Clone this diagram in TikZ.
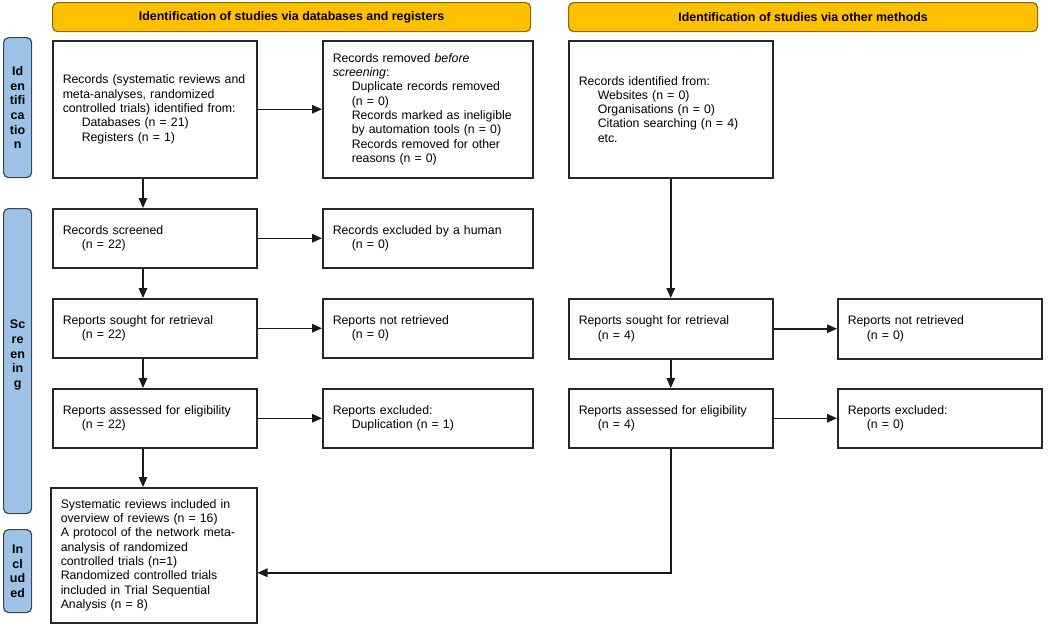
\documentclass[tikz,border=0pt]{standalone}
\usepackage{fontspec}
\setmainfont{Liberation Sans}
\usetikzlibrary{arrows.meta, positioning}

\definecolor{hdrfill}{HTML}{FFC000}
\definecolor{hdrline}{HTML}{8C6A00}
\definecolor{phasefill}{HTML}{9DC3E6}
\definecolor{phaseline}{HTML}{3A4656}

\newcommand\sublevel{\hspace*{19pt}}

\tikzset{
  flowbox/.style={draw=black!85, line width=1.5pt, anchor=north west, align=left,
    inner xsep=10pt, inner ysep=0pt, font=\fontsize{12.3}{14.3}\selectfont},
  narrow/.style={text width=184pt},
  wide/.style={text width=190pt},
  hdr/.style={draw=hdrline, fill=hdrfill, line width=1.2pt, rounded corners=5pt,
    anchor=north west, minimum height=29pt, inner sep=0pt,
    font=\bfseries\fontsize{12.4}{14}\selectfont},
  phase/.style={draw=phaseline, fill=phasefill, line width=1.2pt, rounded corners=5pt,
    anchor=north west, minimum width=28pt, inner sep=0pt, align=center,
    font=\bfseries\fontsize{12.5}{14.6}\selectfont},
  arrowline/.style={-{Triangle[length=10pt,width=8.5pt]}, line width=1.5pt, draw=black!90}
}

\begin{document}
\begin{tikzpicture}[x=1pt, y=-1pt]

    \useasboundingbox (0,0) rectangle (1052,624);

    % headers
    \node [hdr, minimum width=478pt] (hdr-db) at (52,2) {Identification of studies via databases and registers};
    \node [hdr, minimum width=469pt] (hdr-other) at (568,2) {Identification of studies via other methods};

    % phases
    \node [phase, minimum height=140pt] (ph-id) at (3,37) {Id\\en\\tifi\\ca\\tio\\n};
    \node [phase, minimum height=305pt] (ph-scr) at (3,208) {Sc\\re\\en\\in\\g\\[0pt]};
    \node [phase, minimum height=83pt] (ph-inc) at (3,529) {In\\cl\\ud\\ed};

    % databases and registers
    \node [flowbox, narrow, minimum height=137pt] (rec-db) at (52,40) {
      Records (systematic reviews and\\
      meta-analyses, randomized\\
      controlled trials) identified from:\\
      \sublevel Databases (n = 21)\\
      \sublevel Registers (n = 1)};
    \node [flowbox, wide, minimum height=137pt] (removed) at (322,40) {
      Records removed \textit{before}\\
      \textit{screening}:\\
      \sublevel Duplicate records removed\\
      \sublevel (n = 0)\\
      \sublevel Records marked as ineligible\\
      \sublevel by automation tools (n = 0)\\
      \sublevel Records removed for other\\
      \sublevel reasons (n = 0)};

    \node [flowbox, narrow, minimum height=59pt] (screened) at (52,208) {
      Records screened\\ \sublevel (n = 22)};
    \node [flowbox, wide, minimum height=59pt] (excl-human) at (322,208) {
      Records excluded by a human\\ \sublevel (n = 0)};

    \node [flowbox, narrow, minimum height=59pt] (sought-db) at (52,298) {
      Reports sought for retrieval\\ \sublevel (n = 22)};
    \node [flowbox, wide, minimum height=59pt] (notret-db) at (322,298) {
      Reports not retrieved\\ \sublevel (n = 0)};

    \node [flowbox, narrow, minimum height=59pt] (assessed-db) at (52,388) {
      Reports assessed for eligibility\\ \sublevel (n = 22)};
    \node [flowbox, wide, minimum height=59pt] (excl-db) at (322,388) {
      Reports excluded:\\ \sublevel Duplication (n = 1)};

    \node [flowbox, text width=186pt, minimum height=135pt] (included) at (50,487) {
      Systematic reviews included in\\
      overview of reviews (n = 16)\\
      A protocol of the network meta-\\
      analysis of randomized\\
      controlled trials (n=1)\\
      Randomized controlled trials\\
      included in Trial Sequential\\
      Analysis (n = 8)};

    % other methods
    \node [flowbox, narrow, minimum height=137pt] (rec-other) at (568,40) {
      Records identified from:\\
      \sublevel Websites (n = 0)\\
      \sublevel Organisations (n = 0)\\
      \sublevel Citation searching (n = 4)\\
      \sublevel etc.};

    \node [flowbox, narrow, minimum height=60pt] (sought-other) at (568,298) {
      Reports sought for retrieval\\ \sublevel (n = 4)};
    \node [flowbox, narrow, minimum height=60pt] (notret-other) at (837,298) {
      Reports not retrieved\\ \sublevel (n = 0)};

    \node [flowbox, narrow, minimum height=59pt] (assessed-other) at (568,388) {
      Reports assessed for eligibility\\ \sublevel (n = 4)};
    \node [flowbox, narrow, minimum height=59pt] (excl-other) at (837,388) {
      Reports excluded:\\ \sublevel (n = 0)};

    % connectors
    \coordinate (spine) at (143,0);
    \foreach \a/\b in {rec-db/screened, screened/sought-db, sought-db/assessed-db, assessed-db/included}
      \draw [arrowline] (\a.south -| spine) -- (\b.north -| spine);

    \foreach \a/\b in {rec-db/removed, screened/excl-human, sought-db/notret-db, assessed-db/excl-db,
                       sought-other/notret-other, assessed-other/excl-other}
      \draw [arrowline] (\a) -- (\b);

    \draw [arrowline] (rec-other) -- (sought-other);
    \draw [arrowline] (sought-other) -- (assessed-other);
    \draw [arrowline] (assessed-other.south) |- ([yshift=-17.5pt]included.east);

\end{tikzpicture}
\end{document}
